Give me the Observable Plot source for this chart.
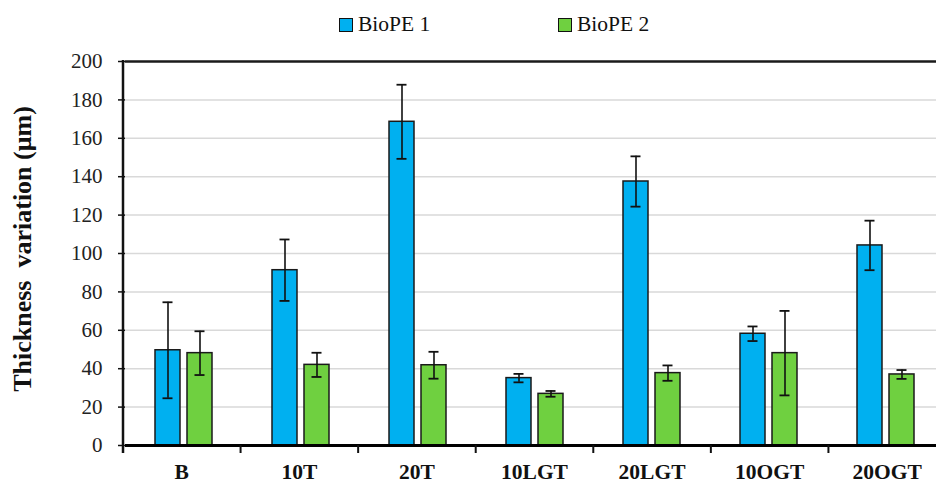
<!DOCTYPE html>
<html>
<head>
<meta charset="utf-8">
<script src="https://cdn.jsdelivr.net/npm/d3@7"></script>
<script src="https://cdn.jsdelivr.net/npm/@observablehq/plot@0.6"></script>
<style>
  html, body { margin: 0; padding: 0; background: #fff; overflow: hidden; }
  #wrap { position: relative; width: 936px; height: 485px; overflow: hidden; font-family: "Liberation Serif", serif; }
  #chart svg { max-width: none !important; }
  #legend { position: absolute; top: 0; left: 0; width: 936px; height: 50px; pointer-events: none; }
  .lg-item { position: absolute; top: 12px; display: flex; align-items: center; font-size: 21.5px; color: #111; }
  .lg-sw { width: 12px; height: 12px; border: 1.5px solid #111; margin-right: 5px; }
</style>
</head>
<body>
<div id="wrap"><div id="chart"></div><div id="legend"></div></div>
<script>
const categories = ["B", "10T", "20T", "10LGT", "20LGT", "10OGT", "20OGT"];
const series = ["BioPE 1", "BioPE 2"];
const bioPE1 = [49.6, 91.3, 168.6, 35.1, 137.5, 58.2, 104.2];
const bioPE1Err = [25.0, 16.0, 19.3, 2.2, 13.1, 3.8, 12.9];
const bioPE2 = [48.1, 42.0, 41.8, 26.9, 37.7, 48.1, 37.0];
const bioPE2Err = [11.4, 6.3, 7.0, 1.5, 4.0, 22.0, 2.3];
const yTicks = [0, 20, 40, 60, 80, 100, 120, 140, 160, 180, 200];
const gridTicks = [20, 40, 60, 80, 100, 120, 140, 160, 180];
const colors = ["#00b0f0", "#6fd040"];
const yTitle = "Thickness  variation (\u03bcm)";

const data = [];
categories.forEach((c, i) => {
  data.push({cat: c, series: series[0], value: bioPE1[i], err: bioPE1Err[i]});
  data.push({cat: c, series: series[1], value: bioPE2[i], err: bioPE2Err[i]});
});

const W = 946, H = 485;
const plot = Plot.plot({
  width: W,
  height: H,
  marginLeft: 123,
  marginRight: 0,
  marginTop: 61,
  marginBottom: 40,
  style: {fontFamily: "'Liberation Serif', serif", background: "transparent", overflow: "visible", maxWidth: "none"},
  fx: {domain: categories, padding: 0, label: null, axis: null},
  x: {domain: series, paddingInner: 0.21, paddingOuter: 0.887, axis: null},
  y: {domain: [0, 200], range: [445, 61], label: null},
  color: {domain: series, range: colors},
  marks: [
    Plot.gridY(gridTicks, {stroke: "#d9d9d9", strokeOpacity: 1, strokeWidth: 1.5}),
    Plot.ruleY([200], {stroke: "#1a1a1a", strokeWidth: 2.5}),
    Plot.barY(data, {fx: "cat", x: "series", y: "value", fill: "series", stroke: "#1a1a1a", strokeWidth: 1.5}),
    Plot.ruleX(data, {fx: "cat", x: "series", y1: d => d.value - d.err, y2: d => d.value + d.err, stroke: "#111", strokeWidth: 1.6}),
    Plot.tickY(data, {fx: "cat", x: "series", y: d => d.value + d.err, stroke: "#111", strokeWidth: 1.8, insetLeft: 7.5, insetRight: 7.5}),
    Plot.tickY(data, {fx: "cat", x: "series", y: d => d.value - d.err, stroke: "#111", strokeWidth: 1.8, insetLeft: 7.5, insetRight: 7.5}),
    Plot.ruleY([0], {stroke: "#000", strokeWidth: 3}),
    Plot.axisY({ticks: yTicks, tickSize: 7, tickPadding: 16, fontSize: 21, stroke: "#111", strokeWidth: 1.5, color: "#222", label: null})
  ]
});
plot.style.maxWidth = "none";
plot.style.height = H + "px";
plot.style.width = W + "px";
document.getElementById("chart").appendChild(plot);

// decorations placed through the plot's own scales
const svg = d3.select(plot);
const fx = plot.scale("fx");
const y = plot.scale("y");
const r0 = fx.range[0], r1 = fx.range[1];
const step = (r1 - r0) / fx.domain.length;
const y0 = y.apply(0), y200 = y.apply(200);
const g = svg.append("g");
g.append("line").attr("x1", r0).attr("x2", r0).attr("y1", y200 - 1).attr("y2", y0 + 8)
  .attr("stroke", "#111").attr("stroke-width", 2.5);
d3.range(fx.domain.length + 1).forEach(i => {
  const xx = r0 + i * step;
  g.append("line").attr("x1", xx).attr("x2", xx).attr("y1", y0).attr("y2", y0 + 8)
    .attr("stroke", "#111").attr("stroke-width", 2);
});
fx.domain.forEach((c, i) => {
  g.append("text")
    .attr("x", r0 + (i + 0.5) * step).attr("y", y0 + 34)
    .attr("text-anchor", "middle")
    .attr("font-size", 21.5).attr("font-weight", "bold").attr("fill", "#111")
    .text(c);
});
g.append("text")
  .attr("transform", `translate(31,${(y0 + y200) / 2 - 4}) rotate(-90)`)
  .attr("text-anchor", "middle")
  .attr("font-size", 26).attr("font-weight", "bold").attr("fill", "#111")
  .style("white-space", "pre")
  .text(yTitle);

// legend
const legend = document.getElementById("legend");
const lgLeft = [339, 558];
series.forEach((s, i) => {
  const item = document.createElement("div");
  item.className = "lg-item";
  item.style.left = lgLeft[i] + "px";
  const sw = document.createElement("div");
  sw.className = "lg-sw";
  sw.style.background = colors[i];
  const tx = document.createElement("span");
  tx.textContent = s;
  item.appendChild(sw);
  item.appendChild(tx);
  legend.appendChild(item);
});
</script>
</body>
</html>
